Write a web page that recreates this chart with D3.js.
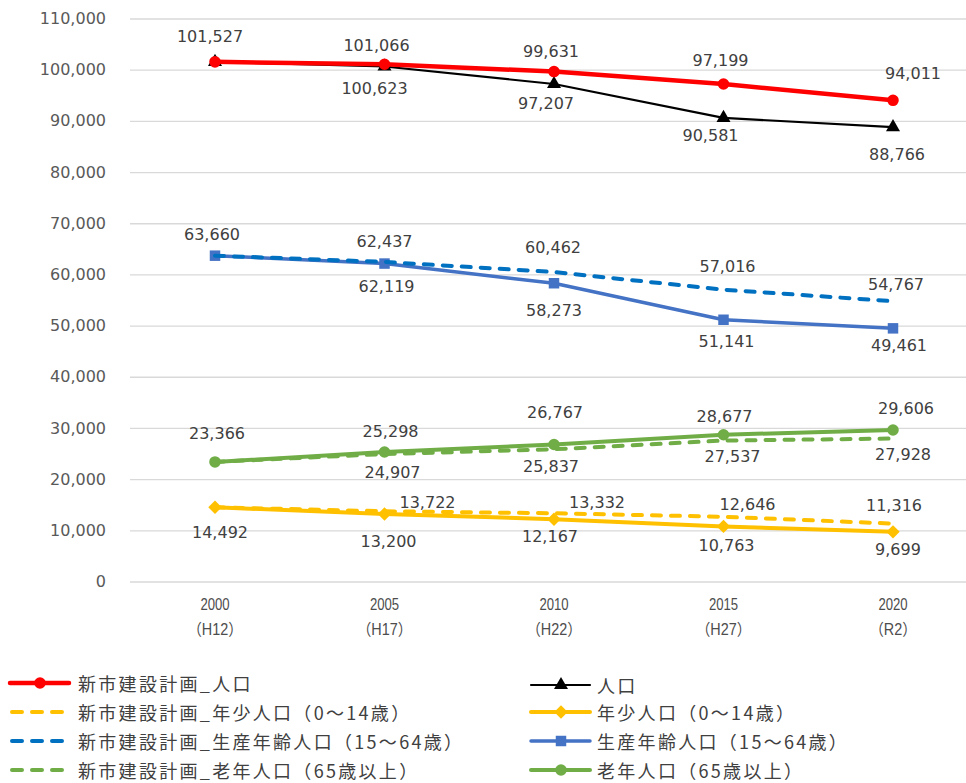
<!DOCTYPE html>
<html><head><meta charset="utf-8">
<script src="https://cdn.jsdelivr.net/npm/d3@7"></script>
<style>
html,body{margin:0;padding:0;background:#fff;}
svg{display:block;}
</style></head>
<body>
<svg id="chart" width="966" height="783"></svg>
<script>
const categories = ["2000","2005","2010","2015","2020"];
const eraLabels = ["（H12）","（H17）","（H22）","（H27）","（R2）"];
const yTicks = [0,10000,20000,30000,40000,50000,60000,70000,80000,90000,100000,110000];

const planTotal     = [101527,101066,99631,97199,94011];
const actualTotal   = [101527,100623,97207,90581,88766];
const planYoung     = [14492,13722,13332,12646,11316];
const actualYoung   = [14492,13200,12167,10763,9699];
const planWorking   = [63660,62437,60462,57016,54767];
const actualWorking = [63660,62119,58273,51141,49461];
const planElderly   = [23366,24907,25837,27537,27928];
const actualElderly = [23366,25298,26767,28677,29606];

const seriesNames = {
  planTotal:"新市建設計画_人口", actualTotal:"人口",
  planYoung:"新市建設計画_年少人口（0～14歳）", actualYoung:"年少人口（0～14歳）",
  planWorking:"新市建設計画_生産年齢人口（15～64歳）", actualWorking:"生産年齢人口（15～64歳）",
  planElderly:"新市建設計画_老年人口（65歳以上）", actualElderly:"老年人口（65歳以上）"
};

const W = 966, H = 783;
const svg = d3.select("#chart");
const x = d3.scalePoint().domain(categories).range([215, 893]);
const y = d3.scaleLinear().domain([0,110000]).range([581.5, 18.5]);
const plotLeft = 130;

// grid + y axis
const yAxis = d3.axisLeft(y).tickValues(yTicks).tickFormat(d3.format(","))
  .tickSize(-(W - plotLeft)).tickPadding(24);
const gy = svg.append("g").attr("transform",`translate(${plotLeft},0)`).call(yAxis);
gy.select(".domain").remove();
gy.selectAll(".tick line").attr("stroke","#d9d9d9").attr("stroke-width",1.3);
gy.selectAll(".tick text").attr("fill","#595959").style("font-family","'DejaVu Sans', sans-serif").style("font-size","16px");

// x axis labels
const gx = svg.append("g");
categories.forEach((c,i)=>{
  gx.append("text").attr("transform",`translate(${x(c)},605) scale(0.82,1)`)
    .attr("text-anchor","middle").attr("dominant-baseline","central").attr("fill","#4d4d4d")
    .style("font-family","'Liberation Sans', sans-serif").style("font-size","16px").text(c);
  gx.append("text").attr("transform",`translate(${x(c)},629) scale(0.9,1)`)
    .attr("text-anchor","middle").attr("dominant-baseline","central").attr("fill","#4d4d4d")
    .style("font-family","'Liberation Sans','Noto Sans CJK JP', sans-serif").style("font-size","16px")
    .text(eraLabels[i]);
});

const colors = {
  red:"#ff0000", black:"#000000", yellow:"#ffc000", blueD:"#0070c0", blue:"#4472c4", green:"#70ad47"
};

const line = d3.line().x((d,i)=>x(categories[i])).y(d=>y(d));

function drawLine(data, color, width, dashed){
  svg.append("path").datum(data).attr("d",line).attr("fill","none")
    .attr("stroke",color).attr("stroke-width",width)
    .attr("stroke-linejoin","round")
    .attr("stroke-linecap", dashed ? "round" : "butt")
    .attr("stroke-dasharray", dashed ? "9,10" : null);
}
const symbolMap = {circle:d3.symbolCircle, triangle:d3.symbolTriangle, diamond:d3.symbolSquare, square:d3.symbolSquare};
const symbolRot = {circle:0, triangle:0, diamond:45, square:0};
const mSize = {circle:105, triangle:85, diamond:90, square:110};
function drawMarkers(data, color, type){
  svg.append("g").selectAll("path").data(data).join("path")
    .attr("transform",(d,i)=>`translate(${x(categories[i])},${y(d)}) rotate(${symbolRot[type]})`)
    .attr("d", d3.symbol().type(symbolMap[type]).size(mSize[type]))
    .attr("fill",color);
}

// actual first, plan over
drawLine(actualTotal, colors.black, 2.2, false); drawMarkers(actualTotal, colors.black, "triangle");
drawLine(actualYoung, colors.yellow, 4, false); drawMarkers(actualYoung, colors.yellow, "diamond");
drawLine(actualWorking, colors.blue, 3.5, false); drawMarkers(actualWorking, colors.blue, "square");
drawLine(actualElderly, colors.green, 4, false); drawMarkers(actualElderly, colors.green, "circle");
drawLine(planYoung, colors.yellow, 4, true);
drawLine(planWorking, colors.blueD, 4, true);
drawLine(planElderly, colors.green, 4, true);
drawLine(planTotal, colors.red, 4.5, false); drawMarkers(planTotal, colors.red, "circle");

// data labels (layout offsets of label centre from point)
const labelLayout = [
  [planTotal,     [[-5,-25],[-8,-19],[-3,-20],[-3,-24],[20,-27]]],
  [actualTotal,   [null,[-10,22],[-8,20],[-13,18],[4,27]]],
  [planWorking,   [[-3,-21],[0,-20],[-1,-25],[4,-23],[3,-17]]],
  [actualWorking, [null,[2,23],[0,27],[3,22],[6,17]]],
  [actualElderly, [[2,-28],[6,-21],[1,-32],[1,-18],[13,-21]]],
  [planElderly,   [null,[8,18],[-3,17],[9,16],[10,16]]],
  [planYoung,     [null,[43,-9],[43,-11],[24,-12],[1,-18]]],
  [actualYoung,   [[5,25],[4,28],[-4,17],[3,19],[5,18]]]
];
const fmt = d3.format(",");
const gl = svg.append("g");
labelLayout.forEach(([data, offs])=>{
  data.forEach((v,i)=>{
    const o = offs[i]; if(!o) return;
    gl.append("text").attr("x", x(categories[i]) + o[0]).attr("y", y(v) + o[1])
      .attr("text-anchor","middle").attr("dominant-baseline","central")
      .attr("fill","#404040").style("font-family","'DejaVu Sans', sans-serif").style("font-size","16px")
      .text(fmt(v));
  });
});

// legend
const legendItems = [
  {name:seriesNames.planTotal, color:colors.red, width:4.5, dashed:false, marker:"circle", col:0, row:0},
  {name:seriesNames.actualTotal, color:colors.black, width:2.2, dashed:false, marker:"triangle", col:1, row:0},
  {name:seriesNames.planYoung, color:colors.yellow, width:4, dashed:true, marker:null, col:0, row:1},
  {name:seriesNames.actualYoung, color:colors.yellow, width:4, dashed:false, marker:"diamond", col:1, row:1},
  {name:seriesNames.planWorking, color:colors.blueD, width:4, dashed:true, marker:null, col:0, row:2},
  {name:seriesNames.actualWorking, color:colors.blue, width:3.5, dashed:false, marker:"square", col:1, row:2},
  {name:seriesNames.planElderly, color:colors.green, width:4, dashed:true, marker:null, col:0, row:3},
  {name:seriesNames.actualElderly, color:colors.green, width:4, dashed:false, marker:"circle", col:1, row:3}
];
const colX = [10, 531];
const rowY = [683, 712, 741, 770];
const glg = svg.append("g");
legendItems.forEach(it=>{
  const x0 = colX[it.col], yy = rowY[it.row] + (it.col===1 && it.row===0 ? 2 : 0);
  glg.append("line").attr("x1", x0 + (it.dashed?2:0)).attr("x2", x0 + (it.dashed?56:59)).attr("y1",yy).attr("y2",yy)
    .attr("stroke",it.color).attr("stroke-width",it.width)
    .attr("stroke-linecap","round")
    .attr("stroke-dasharray", it.dashed ? "10,10" : null);
  if(it.marker){
    glg.append("path").attr("transform",`translate(${x0+30},${yy}) rotate(${symbolRot[it.marker]})`)
      .attr("d", d3.symbol().type(symbolMap[it.marker]).size(mSize[it.marker])).attr("fill", it.color);
  }
  glg.append("text").attr("x", x0 + (it.col===0 ? 68 : 66)).attr("y", yy).attr("dominant-baseline","central")
    .attr("fill","#404040").style("font-family","'Noto Sans CJK JP', sans-serif").style("font-size","18px")
    .style("letter-spacing","2.3px").text(it.name);
});
</script>
</body></html>
